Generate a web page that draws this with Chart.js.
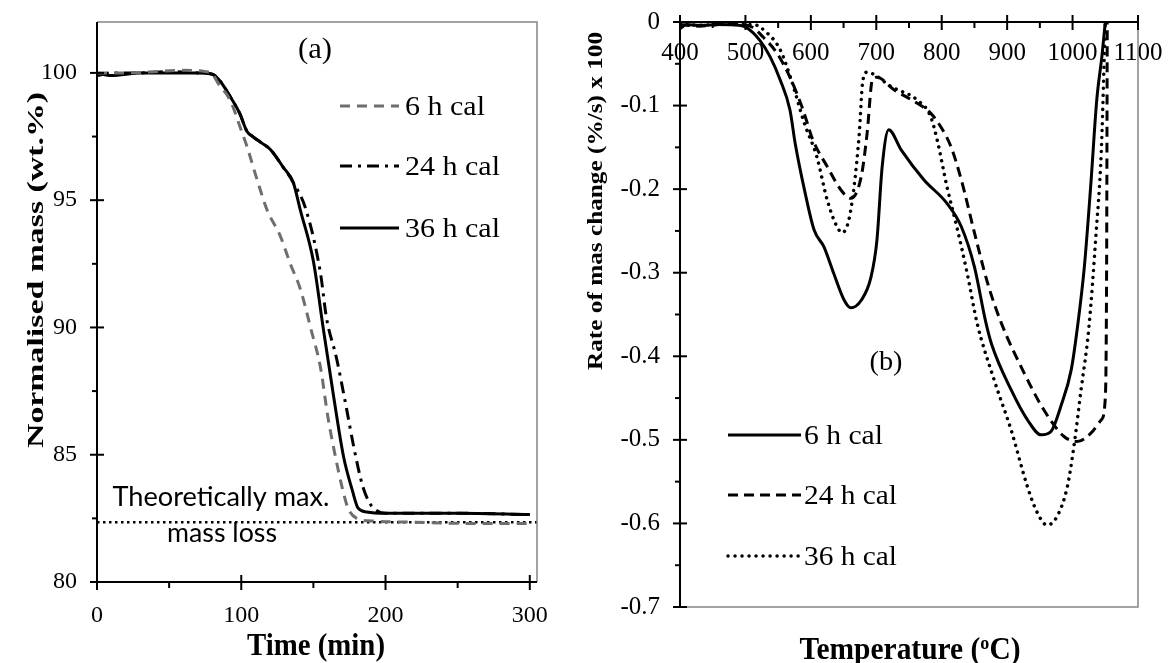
<!DOCTYPE html>
<html>
<head>
<meta charset="utf-8">
<script src="https://cdn.jsdelivr.net/npm/chart.js@4.4.1/dist/chart.umd.min.js"></script>
<style>
  html, body { margin: 0; padding: 0; background: #fff; }
  #wrap { position: relative; width: 1168px; height: 663px; overflow: hidden; }
  #boxA { position: absolute; left: 0; top: 0; width: 560px; height: 663px; }
  #boxB { position: absolute; left: 560px; top: 0; width: 608px; height: 663px; }
</style>
</head>
<body>
<div id="wrap">
  <div id="boxA"><canvas id="chartA"></canvas></div>
  <div id="boxB"><canvas id="chartB"></canvas></div>
</div>
<script>
const SERIF = '"Liberation Serif", "Times New Roman", serif'
const SANS = 'Lato, "Open Sans", sans-serif'

const seriesNames = ["6 h cal", "24 h cal", "36 h cal"]

// (a) normalised mass vs time
const time6 = [0, 20, 40, 60, 75, 80, 85, 90, 94, 99, 104, 111, 118, 127, 134, 141, 148, 155, 160, 165, 170, 174, 180, 190, 220, 260, 300]
const mass6 = [100.0, 100.0, 100.05, 100.1, 100.05, 99.95, 99.5, 99.15, 98.7, 97.9, 97.1, 95.8, 94.6, 93.6, 92.5, 91.5, 90.0, 88.4, 86.5, 85.0, 83.7, 82.9, 82.5, 82.4, 82.35, 82.3, 82.3]
const time24 = [0, 10, 30, 50, 70, 80, 85, 92, 99, 104, 108, 114, 120, 129, 136, 145, 155, 159, 166, 173, 178, 184, 189, 194, 200, 250, 300]
const mass24 = [99.9, 100.0, 100.0, 100.05, 100.0, 99.95, 99.7, 99.1, 98.4, 97.7, 97.5, 97.25, 97.0, 96.3, 95.7, 94.6, 92.1, 90.4, 88.8, 86.8, 85.3, 83.8, 83.1, 82.8, 82.7, 82.7, 82.65]
const time36 = [0, 10, 30, 50, 70, 80, 85, 92, 99, 104, 108, 114, 120, 129, 136, 141, 150, 157, 164, 171, 177, 181, 187, 200, 250, 300]
const mass36 = [100.0, 99.9, 100.0, 100.0, 100.0, 99.95, 99.7, 99.1, 98.4, 97.7, 97.5, 97.25, 97.0, 96.3, 95.7, 94.6, 92.6, 89.9, 87.3, 84.9, 83.6, 82.9, 82.75, 82.7, 82.7, 82.65]
const theoTime = [0, 305]
const theoMass = [82.35, 82.35]
const massTicks = [80, 85, 90, 95, 100]
const massMinor = [82.5, 87.5, 92.5, 97.5]
const timeTicks = [0, 100, 200, 300]
const timeMinor = [50, 150, 250]

// (b) rate of mass change vs temperature
const temp6 = [400, 410, 430, 460, 490, 502, 522, 538, 553, 568, 576, 590, 605, 620, 635, 651, 661, 677, 692, 701, 709, 719, 738, 773, 808, 830, 850, 867, 876, 906, 931, 952, 967, 982, 998, 1007, 1018, 1028, 1037, 1045, 1050]
const rate6 = [-0.008, -0.003, -0.004, -0.003, -0.004, -0.007, -0.022, -0.042, -0.069, -0.105, -0.145, -0.2, -0.249, -0.269, -0.301, -0.333, -0.342, -0.333, -0.305, -0.261, -0.173, -0.129, -0.153, -0.189, -0.217, -0.245, -0.293, -0.358, -0.385, -0.44, -0.476, -0.494, -0.49, -0.46, -0.416, -0.368, -0.293, -0.193, -0.093, -0.04, 0]
const temp24 = [400, 430, 460, 490, 510, 527, 548, 568, 588, 603, 625, 646, 661, 677, 686, 694, 701, 727, 762, 783, 799, 814, 830, 850, 870, 891, 926, 956, 987, 1007, 1028, 1044, 1050, 1052, 1053]
const rate24 = [-0.003, -0.005, -0.003, -0.003, -0.006, -0.018, -0.037, -0.066, -0.105, -0.141, -0.173, -0.201, -0.211, -0.185, -0.133, -0.069, -0.066, -0.081, -0.097, -0.109, -0.126, -0.149, -0.189, -0.252, -0.312, -0.36, -0.42, -0.464, -0.496, -0.502, -0.492, -0.476, -0.45, -0.3, 0]
const temp36 = [400, 430, 460, 490, 512, 533, 553, 570, 590, 609, 625, 640, 648, 658, 666, 674, 679, 686, 697, 722, 762, 783, 793, 808, 823, 839, 854, 880, 906, 931, 946, 961, 976, 992, 1002, 1013, 1025, 1036, 1044, 1048, 1050]
const rate36 = [-0.002, -0.004, -0.003, -0.003, -0.003, -0.013, -0.033, -0.069, -0.121, -0.161, -0.213, -0.245, -0.252, -0.237, -0.197, -0.133, -0.073, -0.06, -0.063, -0.077, -0.093, -0.113, -0.141, -0.197, -0.245, -0.301, -0.36, -0.428, -0.488, -0.556, -0.587, -0.602, -0.592, -0.556, -0.508, -0.44, -0.365, -0.252, -0.153, -0.054, 0]
const rateTicks = [0, -0.1, -0.2, -0.3, -0.4, -0.5, -0.6, -0.7]
const rateMinor = [-0.05, -0.15, -0.25, -0.35, -0.45, -0.55, -0.65]
const tempTicks = [400, 500, 600, 700, 800, 900, 1000, 1100]
const tempMinor = [450, 550, 650, 750, 850, 950, 1050]

function pts(xs, ys) {
  return xs.map((x, i) => ({ x: x, y: ys[i] }))
}

function seg(ctx, x1, y1, x2, y2) {
  ctx.beginPath()
  ctx.moveTo(x1, y1)
  ctx.lineTo(x2, y2)
  ctx.stroke()
}

// text squeezed/stretched along its length to fit the measured width
function stretchText(ctx, text, x, y, width, font, align, rotate) {
  ctx.save()
  ctx.font = font
  const w = ctx.measureText(text).width
  ctx.translate(x, y)
  if (rotate) ctx.rotate(rotate)
  ctx.scale(width / w, 1)
  ctx.textAlign = align || "center"
  ctx.textBaseline = "alphabetic"
  ctx.fillStyle = "#000"
  ctx.fillText(text, 0, 0)
  ctx.restore()
}

function drawLegend(ctx, chart, x1, x2, textX, ys, widths) {
  chart.data.datasets.slice(0, 3).forEach((ds, i) => {
    ctx.save()
    ctx.strokeStyle = ds.borderColor
    ctx.lineWidth = ds.borderWidth
    ctx.lineCap = ds.borderCapStyle || "butt"
    ctx.setLineDash(ds.borderDash || [])
    seg(ctx, x1, ys[i], x2, ys[i])
    ctx.restore()
    stretchText(ctx, ds.label, textX, ys[i] + 9, widths[i], "27px " + SERIF, "left")
  })
}

function drawTicks(ctx, chart, xMajor, xMinor, yMajor, yMinor, xAxisY) {
  const { chartArea: a, scales: { x, y } } = chart
  ctx.save()
  ctx.strokeStyle = "#000"
  ctx.lineWidth = 2
  yMajor.forEach(v => { const p = y.getPixelForValue(v); seg(ctx, a.left - 7, p, a.left + 7, p) })
  yMinor.forEach(v => { const p = y.getPixelForValue(v); seg(ctx, a.left - 5, p, a.left, p) })
  xMajor.forEach(v => { const p = x.getPixelForValue(v); seg(ctx, p, xAxisY - 7, p, xAxisY + 8) })
  xMinor.forEach(v => { const p = x.getPixelForValue(v); seg(ctx, p, xAxisY, p, xAxisY + 6) })
  ctx.restore()
}

// fixed box sizes, no extra label padding from the layout
function fixBox(size) {
  return s => {
    if (s.isHorizontal()) { if (size) s.height = size } else { s.width = size }
    s.paddingTop = 0
    s.paddingBottom = 0
    s.paddingLeft = 0
    s.paddingRight = 0
  }
}

const panelA = {
  id: "panelA",
  afterDraw(chart) {
    const { ctx, chartArea: a } = chart
    ctx.save()
    ctx.strokeStyle = "#858585"
    ctx.lineWidth = 1.5
    ctx.beginPath()
    ctx.moveTo(a.left, a.top)
    ctx.lineTo(a.right, a.top)
    ctx.lineTo(a.right, a.bottom)
    ctx.stroke()
    ctx.strokeStyle = "#000"
    ctx.lineWidth = 2
    ctx.beginPath()
    ctx.moveTo(a.left, a.top)
    ctx.lineTo(a.left, a.bottom)
    ctx.lineTo(a.right, a.bottom)
    ctx.stroke()
    ctx.restore()
    drawTicks(ctx, chart, timeTicks, timeMinor, massTicks, massMinor, a.bottom)

    drawLegend(ctx, chart, 340, 399, 405, [106, 166, 228], [80, 95, 95])

    stretchText(ctx, "(a)", 315, 58, 34, "29px " + SERIF)
    stretchText(ctx, "Theoretically max.", 221, 506, 217, "26px " + SANS)
    stretchText(ctx, "mass loss", 222, 542, 110, "26px " + SANS)
    stretchText(ctx, "Normalised mass (wt.%)", 43, 270, 356, "bold 23px " + SERIF, "center", -Math.PI / 2)
    stretchText(ctx, "Time (min)", 316, 655, 138, "bold 31px " + SERIF)
  }
}

const panelB = {
  id: "panelB",
  afterDraw(chart) {
    const { ctx, chartArea: a, scales: { y } } = chart
    const y0 = y.getPixelForValue(0)
    ctx.save()
    ctx.strokeStyle = "#858585"
    ctx.lineWidth = 1.5
    ctx.beginPath()
    ctx.moveTo(a.left, a.bottom)
    ctx.lineTo(a.right, a.bottom)
    ctx.lineTo(a.right, a.top)
    ctx.stroke()
    ctx.strokeStyle = "#000"
    ctx.lineWidth = 2
    ctx.beginPath()
    ctx.moveTo(a.left, a.bottom)
    ctx.lineTo(a.left, a.top)
    ctx.moveTo(a.left, y0)
    ctx.lineTo(a.right, y0)
    ctx.stroke()
    ctx.restore()
    drawTicks(ctx, chart, tempTicks, tempMinor, rateTicks, rateMinor, y0)

    drawLegend(ctx, chart, 168, 241, 244, [435, 495, 556], [79, 93, 93])

    stretchText(ctx, "(b)", 326, 370, 33, "28px " + SERIF)
    stretchText(ctx, "Rate of mas change (%/s) x 100", 42, 201, 338, "bold 22px " + SERIF, "center", -Math.PI / 2)

    // Temperature (oC) with a raised o
    const big = "bold 31px " + SERIF
    const small = "bold 19px " + SERIF
    ctx.save()
    ctx.font = big
    const w1 = ctx.measureText("Temperature (").width
    const w3 = ctx.measureText("C)").width
    ctx.font = small
    const w2 = ctx.measureText("o").width
    const target = 221
    ctx.translate(350 - target / 2, 659)
    ctx.scale(target / (w1 + w2 + w3), 1)
    ctx.fillStyle = "#000"
    ctx.textAlign = "left"
    ctx.textBaseline = "alphabetic"
    ctx.font = big
    ctx.fillText("Temperature (", 0, 0)
    ctx.font = small
    ctx.fillText("o", w1, -10)
    ctx.font = big
    ctx.fillText("C)", w1 + w2, 0)
    ctx.restore()
  }
}

const noGrid = { display: false, drawTicks: false }

new Chart(document.getElementById("chartA"), {
  type: "line",
  data: {
    datasets: [
      { label: seriesNames[0], data: pts(time6, mass6), borderColor: "#6e6e6e", borderWidth: 3, borderDash: [10, 7] },
      { label: seriesNames[1], data: pts(time24, mass24), borderColor: "#000", borderWidth: 3, borderDash: [12, 6, 3, 6] },
      { label: seriesNames[2], data: pts(time36, mass36), borderColor: "#000", borderWidth: 3 },
      { label: "theoretical", data: pts(theoTime, theoMass), borderColor: "#000", borderWidth: 2.5, borderDash: [2.5, 3.5] },
    ],
  },
  options: {
    responsive: true,
    maintainAspectRatio: false,
    animation: false,
    devicePixelRatio: 1,
    events: [],
    elements: {
      point: { radius: 0, hoverRadius: 0 },
      line: { cubicInterpolationMode: "monotone", fill: false },
    },
    layout: { padding: { top: 22, right: 23, bottom: 0, left: 0 } },
    plugins: { legend: { display: false }, tooltip: { enabled: false } },
    scales: {
      x: {
        type: "linear",
        min: 0,
        max: 305,
        afterBuildTicks: s => { s.ticks = timeTicks.map(v => ({ value: v })) },
        afterFit: fixBox(81),
        grid: noGrid,
        border: { display: false },
        ticks: { font: { family: SERIF, size: 24 }, color: "#000", padding: 19, maxRotation: 0, autoSkip: false, callback: v => String(v) },
      },
      y: {
        min: 80,
        max: 102,
        afterBuildTicks: s => { s.ticks = massTicks.map(v => ({ value: v })) },
        afterFit: fixBox(97),
        grid: noGrid,
        border: { display: false },
        ticks: { font: { family: SERIF, size: 24 }, color: "#000", padding: 20, autoSkip: false, callback: v => String(v) },
      },
    },
  },
  plugins: [panelA],
})

new Chart(document.getElementById("chartB"), {
  type: "line",
  data: {
    datasets: [
      { label: seriesNames[0], data: pts(temp6, rate6), borderColor: "#000", borderWidth: 3 },
      { label: seriesNames[1], data: pts(temp24, rate24), borderColor: "#000", borderWidth: 3, borderDash: [10, 6] },
      { label: seriesNames[2], data: pts(temp36, rate36), borderColor: "#000", borderWidth: 3.5, borderDash: [0.01, 7], borderCapStyle: "round" },
    ],
  },
  options: {
    responsive: true,
    maintainAspectRatio: false,
    animation: false,
    devicePixelRatio: 1,
    events: [],
    elements: {
      point: { radius: 0, hoverRadius: 0 },
      line: { cubicInterpolationMode: "monotone", fill: false },
    },
    layout: { padding: { top: 22, right: 30, bottom: 56, left: 0 } },
    plugins: { legend: { display: false }, tooltip: { enabled: false } },
    scales: {
      x: {
        type: "linear",
        position: { y: 0 },
        min: 400,
        max: 1100,
        afterBuildTicks: s => { s.ticks = tempTicks.map(v => ({ value: v })) },
        afterFit: fixBox(0),
        grid: noGrid,
        border: { display: false },
        ticks: { font: { family: SERIF, size: 25 }, color: "#000", padding: 16, maxRotation: 0, autoSkip: false, callback: v => String(v) },
      },
      y: {
        min: -0.7,
        max: 0,
        afterBuildTicks: s => { s.ticks = rateTicks.map(v => ({ value: v })) },
        afterFit: fixBox(120),
        grid: noGrid,
        border: { display: false },
        ticks: { font: { family: SERIF, size: 25 }, color: "#000", padding: 20, autoSkip: false, callback: v => (v === 0 ? "0" : v.toFixed(1)) },
      },
    },
  },
  plugins: [panelB],
})
</script>
</body>
</html>
